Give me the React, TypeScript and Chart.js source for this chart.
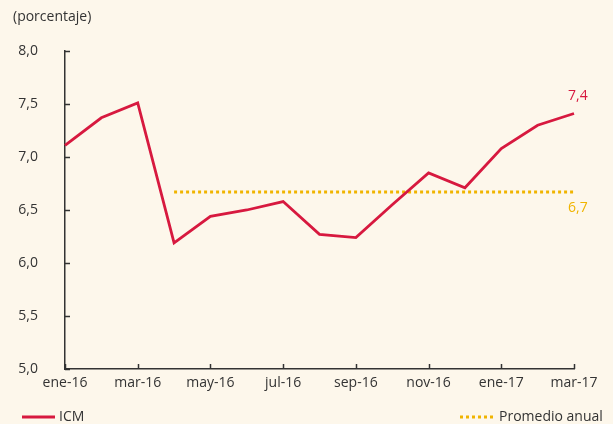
import React, { useEffect, useRef } from "react";
import { Chart, registerables } from "chart.js";

Chart.register(...registerables);

const months = [
  "ene-16", "feb-16", "mar-16", "abr-16", "may-16", "jun-16", "jul-16", "ago-16",
  "sep-16", "oct-16", "nov-16", "dic-16", "ene-17", "feb-17", "mar-17",
];
const icm = [7.11, 7.37, 7.51, 6.19, 6.44, 6.5, 6.58, 6.27, 6.24, 6.55, 6.85, 6.71, 7.08, 7.3, 7.41];
const promedio = [null, null, null, 6.67, 6.67, 6.67, 6.67, 6.67, 6.67, 6.67, 6.67, 6.67, 6.67, 6.67, 6.67];
const yTicks = [5.0, 5.5, 6.0, 6.5, 7.0, 7.5, 8.0];
const lastIcmLabel = "7,4";
const promedioLabel = "6,7";

const RED = "#d7193f";
const YELLOW = "#f0b400";
const TEXT = "#333333";
const BG = "#fdf7eb";
const FONT = "'Open Sans', sans-serif";

export default function App() {
  const ref = useRef<HTMLCanvasElement | null>(null);

  useEffect(() => {
    document.body.style.margin = "0";
    const canvas = ref.current;
    if (!canvas) return;

    const decor = {
      id: "decor",
      afterDraw(chart: any) {
        const ctx = chart.ctx;
        const xs = chart.scales.x;
        const ys = chart.scales.y;
        const area = chart.chartArea;
        ctx.save();
        ctx.strokeStyle = TEXT;
        ctx.lineWidth = 1.5;
        yTicks.forEach((v) => {
          const y = Math.round(ys.getPixelForValue(v)) + 0.5;
          ctx.beginPath();
          ctx.moveTo(area.left, y);
          ctx.lineTo(area.left + 5, y);
          ctx.stroke();
        });
        months.forEach((_, i) => {
          if (i % 2 !== 0) return;
          const x = Math.round(xs.getPixelForValue(i)) + 0.5;
          ctx.beginPath();
          ctx.moveTo(x, area.bottom);
          ctx.lineTo(x, area.bottom - 5);
          ctx.stroke();
        });
        const n = icm.length - 1;
        const lx = xs.getPixelForValue(n);
        ctx.font = `14px ${FONT}`;
        ctx.textAlign = "left";
        ctx.textBaseline = "middle";
        ctx.fillStyle = RED;
        ctx.fillText(lastIcmLabel, lx - 6, ys.getPixelForValue(icm[n]) - 18);
        ctx.fillStyle = YELLOW;
        ctx.fillText(promedioLabel, lx - 6, ys.getPixelForValue(promedio[n] as number) + 16);
        ctx.fillStyle = TEXT;
        ctx.font = `14px ${FONT}`;
        ctx.fillText("(porcentaje)", 13, 17);
        const ly = 417;
        ctx.strokeStyle = RED;
        ctx.lineWidth = 2.8;
        ctx.setLineDash([]);
        ctx.beginPath();
        ctx.moveTo(22, ly);
        ctx.lineTo(55, ly);
        ctx.stroke();
        ctx.font = `14px ${FONT}`;
        ctx.fillStyle = TEXT;
        ctx.fillText("ICM", 59, ly);
        ctx.strokeStyle = YELLOW;
        ctx.lineWidth = 3;
        ctx.setLineDash([3, 3]);
        ctx.beginPath();
        ctx.moveTo(460, ly);
        ctx.lineTo(494, ly);
        ctx.stroke();
        ctx.setLineDash([]);
        ctx.fillText("Promedio anual", 499, ly);
        ctx.restore();
      },
    };

    const chart = new Chart(canvas, {
      type: "line",
      data: {
        labels: months,
        datasets: [
          {
            label: "ICM",
            data: icm,
            borderColor: RED,
            borderWidth: 2.8,
            pointRadius: 0,
            tension: 0,
          },
          {
            label: "Promedio anual",
            data: promedio,
            borderColor: YELLOW,
            borderWidth: 3,
            borderDash: [3, 3],
            pointRadius: 0,
            tension: 0,
          },
        ],
      },
      options: {
        animation: false,
        responsive: false,
        maintainAspectRatio: false,
        layout: { padding: { top: 51, right: 39, left: 0, bottom: 0 } },
        plugins: { legend: { display: false }, tooltip: { enabled: false } },
        scales: {
          x: {
            grid: { display: false, drawTicks: false },
            border: { display: true, color: TEXT, width: 1.5 },
            ticks: {
              autoSkip: false,
              maxRotation: 0,
              padding: 6,
              color: TEXT,
              font: { family: FONT, size: 14 },
              callback: (_v: any, i: number) => (i % 2 === 0 ? months[i] : ""),
            },
            afterFit: (axis: any) => {
              axis.height = 55;
            },
          },
          y: {
            min: 5,
            max: 8,
            grid: { display: false, drawTicks: false },
            border: { display: true, color: TEXT, width: 1.5 },
            afterBuildTicks: (axis: any) => {
              axis.ticks = yTicks.map((v) => ({ value: v }));
            },
            ticks: {
              padding: 27,
              color: TEXT,
              font: { family: FONT, size: 14 },
              callback: (v: any) => Number(v).toFixed(1).replace(".", ","),
            },
            afterFit: (axis: any) => {
              axis.width = 65;
            },
          },
        },
      },
      plugins: [decor],
    });
    return () => chart.destroy();
  }, []);

  return (
    <div style={{ position: "fixed", left: 0, top: 0, width: 613, height: 424, background: BG }}>
      <canvas ref={ref} width={613} height={424} style={{ display: "block" }} />
    </div>
  );
}
